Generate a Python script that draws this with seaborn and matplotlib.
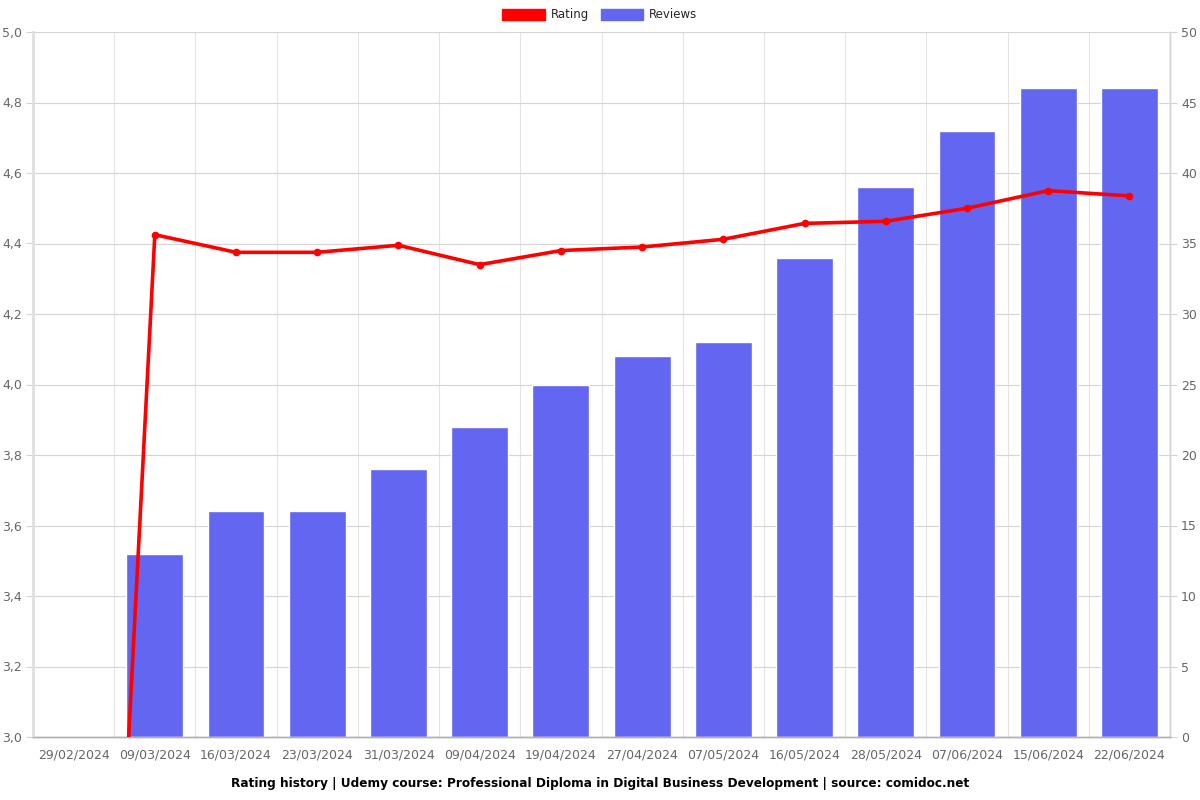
import matplotlib
matplotlib.use("Agg")
import matplotlib.pyplot as plt
import seaborn as sns
import numpy as np
from matplotlib.patches import Patch
from matplotlib.ticker import FuncFormatter, FixedLocator

dates = ["29/02/2024", "09/03/2024", "16/03/2024", "23/03/2024", "31/03/2024",
         "09/04/2024", "19/04/2024", "27/04/2024", "07/05/2024", "16/05/2024",
         "28/05/2024", "07/06/2024", "15/06/2024", "22/06/2024"]
reviews = [0, 13, 16, 16, 19, 22, 25, 27, 28, 34, 39, 43, 46, 46]
ratings = [0.0, 4.425, 4.375, 4.375, 4.395, 4.34, 4.38, 4.39, 4.412, 4.457,
           4.463, 4.50, 4.55, 4.535]
title = "Rating history | Udemy course: Professional Diploma in Digital Business Development | source: comidoc.net"

sns.set_style("white")
plt.rcParams['font.family'] = ['DejaVu Sans']

bar_color = "#6366F1"
line_color = "#FF0000"
tick_color = "#666666"
grid_color = "#d4d4d4"

fig = plt.figure(figsize=(12, 8), dpi=100)
ax = fig.add_axes([0.0275, 0.07875, 0.9475, 0.88125])
ax2 = ax.twinx()

n = len(dates)
pos = np.arange(n)

sns.barplot(x=pos, y=reviews, ax=ax2, color=bar_color, width=0.7,
            saturation=1, native_scale=True, zorder=2)
sns.lineplot(x=pos, y=ratings, ax=ax, color=line_color, linewidth=2.6,
             marker="o", markersize=5.5, markeredgewidth=0, sort=False, zorder=3)

ax.set_zorder(ax2.get_zorder() + 1)
ax.patch.set_visible(False)

ax.set_xlim(-0.5, n - 0.5)
ax.set_ylim(3.0, 5.0)
ax2.set_ylim(0, 50)

ax.set_yticks(np.linspace(3.0, 5.0, 11))
ax.yaxis.set_major_formatter(FuncFormatter(lambda v, p: f"{v:.1f}".replace('.', ',')))
ax2.set_yticks(np.arange(0, 51, 5))

# x ticks: labels at centers, tick marks / grid at boundaries
ax.set_xticks(pos)
ax.set_xticklabels(dates)
ax.xaxis.set_minor_locator(FixedLocator(np.arange(-0.5, n, 1.0)))
ax.tick_params(axis="x", which="major", length=0, pad=8, labelsize=9, labelcolor=tick_color)
ax.tick_params(axis="x", which="minor", length=5, color=grid_color, width=1)
ax.tick_params(axis="y", length=5, color=grid_color, labelsize=9, labelcolor=tick_color, pad=3)
ax2.tick_params(axis="y", length=5, color=grid_color, labelsize=9, labelcolor=tick_color, pad=3)

ax2.set_xlim(-0.5, n - 0.5)
ax2.xaxis.set_visible(True)
ax2.xaxis.set_minor_locator(FixedLocator(np.arange(-0.5, n, 1.0)))
ax2.tick_params(axis="x", which="both", length=0, labelbottom=False, labeltop=False)
ax2.grid(True, axis="y", which="major", color=grid_color, linewidth=0.8, zorder=0)
ax2.grid(True, axis="x", which="minor", color="#e3e3e3", linewidth=0.8, zorder=0)
ax2.grid(False, axis="x", which="major")
ax2.set_axisbelow(True)
ax2.set_xlabel("")
ax.set_xlabel("")
ax.set_ylabel("")
ax2.set_ylabel("")

for a in (ax, ax2):
    for s in a.spines.values():
        s.set_color(grid_color)
        s.set_linewidth(1)
ax.spines["left"].set_color("#e0e0e0")
ax.spines["left"].set_linewidth(2)
ax.spines["bottom"].set_color("#b0b0b0")
ax2.spines["bottom"].set_color("#b0b0b0")
ax.spines["top"].set_visible(False)
ax2.spines["top"].set_visible(False)

handles = [Patch(facecolor=line_color, edgecolor=line_color),
           Patch(facecolor=bar_color, edgecolor=bar_color)]
fig.legend(handles, ["Rating", "Reviews"], loc="upper center", ncol=2,
           bbox_to_anchor=(0.5, 1.003), frameon=False, fontsize=8.5,
           handlelength=3.6, handleheight=1.1, columnspacing=1.0, handletextpad=0.5)

fig.text(0.5, 0.021, title, ha="center", va="center", fontsize=8.7,
         fontweight="bold", color="black")

fig.savefig("out.png", dpi=100)
